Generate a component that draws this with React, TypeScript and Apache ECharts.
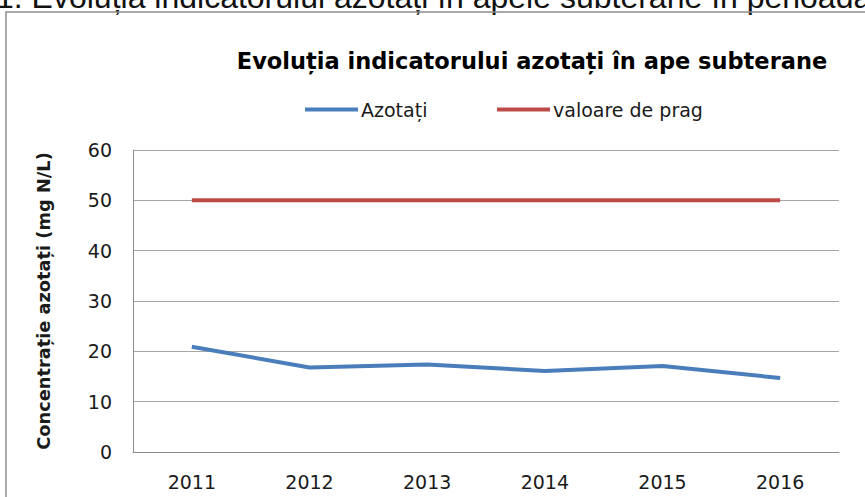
import React, { useEffect, useRef } from "react";
import * as echarts from "echarts";

const years = ["2011", "2012", "2013", "2014", "2015", "2016"];
const azotati = [20.9, 16.8, 17.4, 16.1, 17.1, 14.7];
const valoarePrag = [50, 50, 50, 50, 50, 50];
const seriesNames = ["Azotați", "valoare de prag"];
const chartTitle = "Evoluția indicatorului azotați în ape subterane";
const caption = "1. Evoluția indicatorului azotați în apele subterane în perioada";
const yAxisTitle = "Concentrație azotați (mg N/L)";

export default function App() {
  const ref = useRef<HTMLDivElement>(null);
  useEffect(() => {
    if (!ref.current) return;
    const chart = echarts.init(ref.current, null, { renderer: "svg" });
    const labelFont = "'DejaVu Sans', sans-serif";
    chart.setOption({
      animation: false,
      backgroundColor: "#ffffff",
      title: {
        text: chartTitle,
        left: 527,
        top: 44,
        textAlign: "center",
        textStyle: {
          fontFamily: "'DejaVu Sans', sans-serif",
          fontWeight: "bold",
          fontSize: 22.5,
          color: "#000",
        },
      },
      graphic: [
        {
          type: "text",
          x: -4,
          y: 13,
          style: {
            text: caption,
            font: "32px 'Liberation Sans', Arial, sans-serif",
            fill: "#111",
            textAlign: "left",
            textVerticalAlign: "bottom",
          },
          z: 10,
        },
        {
          type: "rect",
          shape: { x: 6, y: 12, width: 900, height: 600 },
          style: { fill: "none", stroke: "#8c8c8c", lineWidth: 1.5 },
          z: 10,
        },
      ],
      legend: [
        {
          data: [seriesNames[0]],
          left: 300,
          top: 95,
          icon: "rect",
          itemWidth: 53,
          itemHeight: 4,
          itemGap: 0,
          textStyle: { fontFamily: labelFont, fontSize: 19, color: "#1a1a1a", padding: [0, 0, 0, -2] },
        },
        {
          data: [seriesNames[1]],
          left: 492,
          top: 95,
          icon: "rect",
          itemWidth: 53,
          itemHeight: 4,
          itemGap: 0,
          textStyle: { fontFamily: labelFont, fontSize: 19, color: "#1a1a1a", padding: [0, 0, 0, -2] },
        },
      ],
      grid: { left: 133, top: 150, right: 26, bottom: 45, containLabel: false },
      xAxis: {
        type: "category",
        data: years,
        boundaryGap: true,
        axisLine: { show: true, lineStyle: { color: "#8c8c8c", width: 1 } },
        axisTick: { show: false },
        axisLabel: { fontFamily: labelFont, fontSize: 19, color: "#1a1a1a", margin: 20 },
        splitLine: { show: false },
      },
      yAxis: {
        type: "value",
        min: 0,
        max: 60,
        interval: 10,
        name: yAxisTitle,
        nameLocation: "middle",
        nameRotate: 90,
        nameGap: 81,
        nameTextStyle: { fontFamily: labelFont, fontSize: 17.8, fontWeight: "bold", color: "#1a1a1a" },
        axisLine: { show: true, lineStyle: { color: "#8c8c8c", width: 1 } },
        axisTick: { show: false },
        axisLabel: { fontFamily: labelFont, fontSize: 19, color: "#1a1a1a", margin: 21 },
        splitLine: { show: true, lineStyle: { color: "#a6a6a6", width: 1 } },
      },
      series: [
        {
          name: seriesNames[0],
          type: "line",
          data: azotati,
          symbol: "none",
          lineStyle: { color: "#4a7ebb", width: 4 },
          itemStyle: { color: "#4a7ebb" },
        },
        {
          name: seriesNames[1],
          type: "line",
          data: valoarePrag,
          symbol: "none",
          lineStyle: { color: "#be4b48", width: 4 },
          itemStyle: { color: "#be4b48" },
        },
      ],
    });
    return () => chart.dispose();
  }, []);
  return (
    <div
      ref={ref}
      style={{ position: "absolute", left: 0, top: 0, width: 865, height: 497 }}
    />
  );
}
